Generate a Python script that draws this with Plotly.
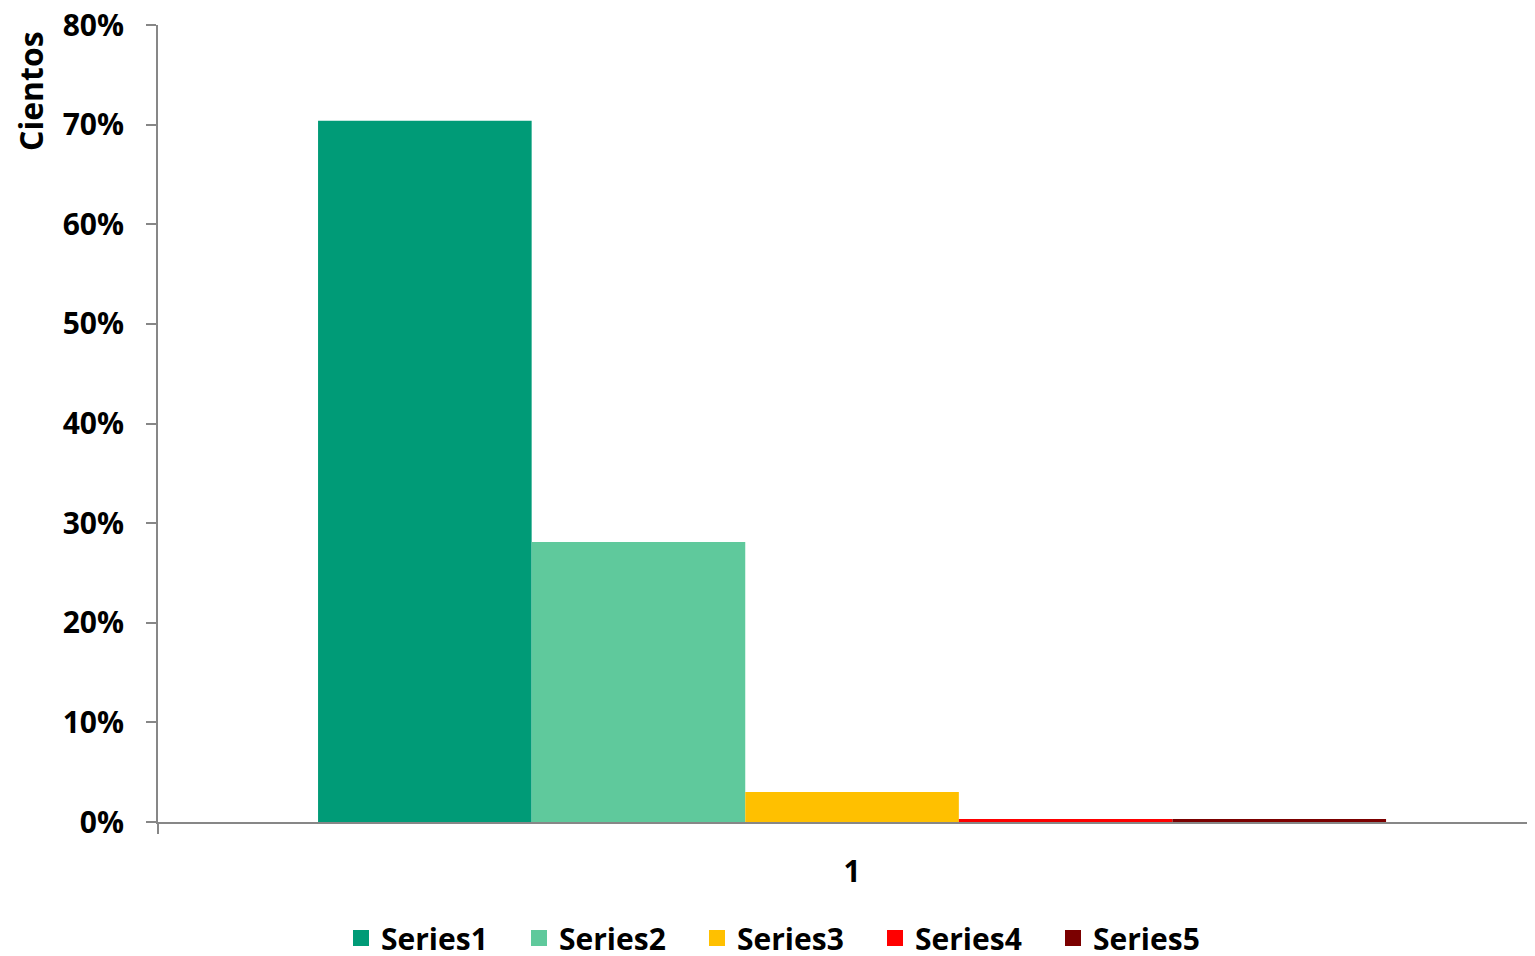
import plotly.graph_objects as go

categories = ["1"]
series_names = ["Series1", "Series2", "Series3", "Series4", "Series5"]
series_values = [[0.704], [0.281], [0.030], [0.003], [0.003]]
colors = ["#009B77", "#5FC99C", "#FFC000", "#FF0000", "#7B0000"]
y_ticks = [0, 0.1, 0.2, 0.3, 0.4, 0.5, 0.6, 0.7, 0.8]

FONT = "Open Sans"
AXIS_COLOR = "#878787"
W, H = 1527, 948  # page body has an 8px margin

fig = go.Figure()
for name, vals, col in zip(series_names, series_values, colors):
    fig.add_trace(go.Bar(x=categories, y=vals, name=name, showlegend=False,
                         marker=dict(color=col, line=dict(width=0))))
# legend entries with larger square swatches
for name, col in zip(series_names, colors):
    fig.add_trace(go.Scatter(x=[None], y=[None], mode="markers", name=name,
                             marker=dict(symbol="square", size=20, color=col),
                             hoverinfo="skip"))

fig.update_layout(
    width=W, height=H,
    paper_bgcolor="white", plot_bgcolor="white",
    margin=dict(l=150, r=0, t=17, b=134, autoexpand=False),
    barmode="group", bargap=0.2306, bargroupgap=0,
    font=dict(family=FONT, size=30, color="black"),
    showlegend=True,
    legend=dict(orientation="h", xref="container", x=(786 - 8) / W, xanchor="center",
                yref="container", y=1 - (938 - 8) / H, yanchor="middle",
                font=dict(family=FONT, size=30, color="black", weight="bold"),
                entrywidth=133, itemwidth=30, traceorder="normal", itemsizing="trace"),
)
fig.update_yaxes(range=[0, 0.8], tickvals=y_ticks, tickformat=".0%",
                 showgrid=False, zeroline=False,
                 showline=True, linecolor=AXIS_COLOR, linewidth=2,
                 ticks="outside", ticklen=10, tickwidth=2, tickcolor=AXIS_COLOR,
                 ticklabelstandoff=16, ticklabeloverflow="allow",
                 tickfont=dict(family=FONT, size=30, color="black", weight="bold"))
fig.update_xaxes(range=[-0.5, 0.492], showgrid=False, zeroline=False,
                 showline=True, linecolor=AXIS_COLOR, linewidth=2,
                 ticks="", ticklabelstandoff=22,
                 tickfont=dict(family=FONT, size=30, color="black", weight="bold"))

# small extension of the y axis below the baseline (category boundary mark)
fig.add_shape(type="line", xref="paper", yref="paper", x0=0, x1=0, y0=0, y1=-0.015,
              line=dict(color=AXIS_COLOR, width=2))

fig.add_annotation(text="Cientos", textangle=-90, xref="paper", yref="paper",
                   x=0, y=1, xshift=-128, yshift=-4, xanchor="center", yanchor="top",
                   showarrow=False, font=dict(family=FONT, size=32, color="black", weight="bold"))

fig.write_html("out.html")
